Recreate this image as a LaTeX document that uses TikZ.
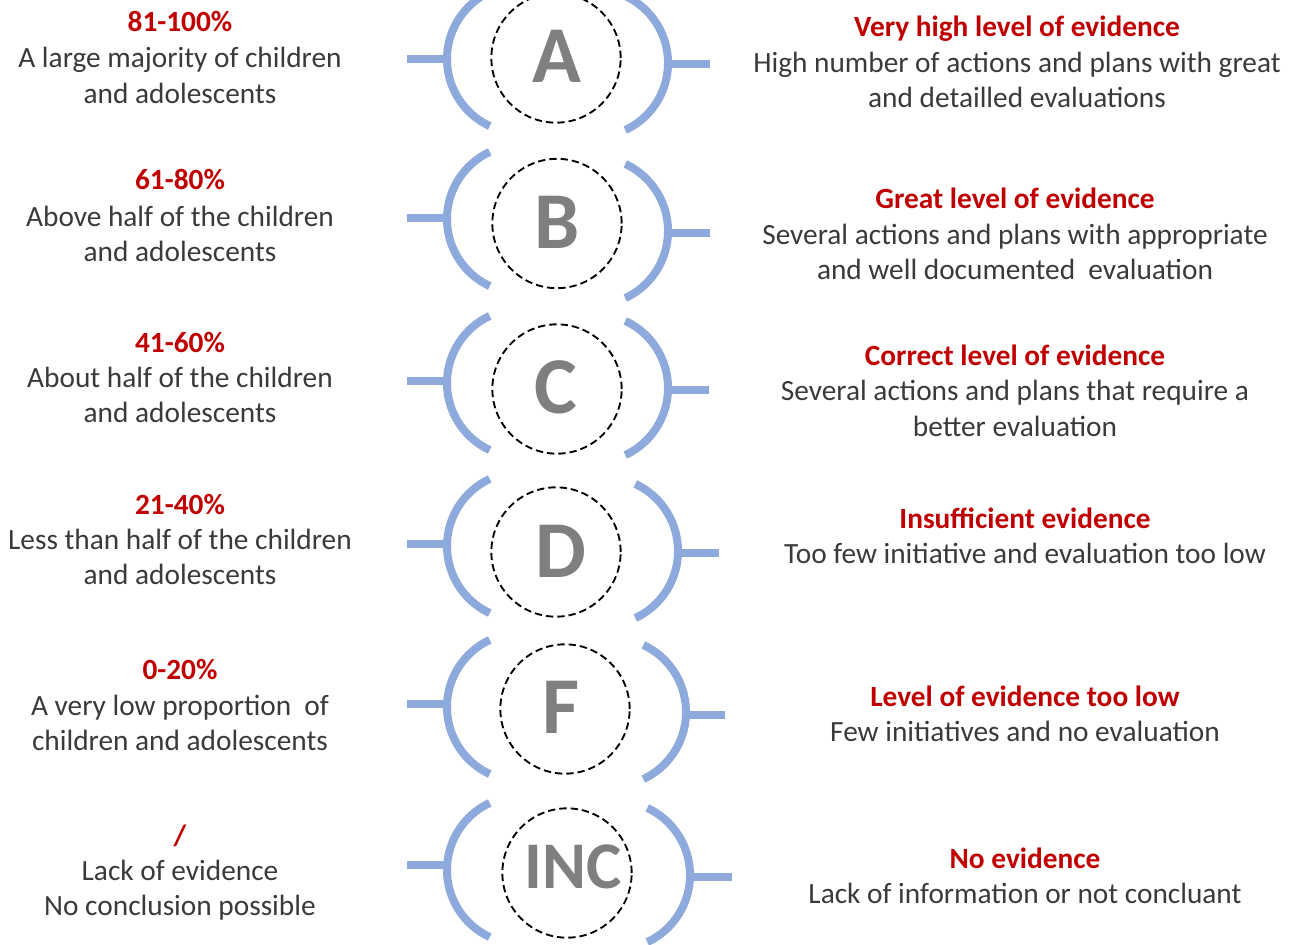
\documentclass[tikz,border=0pt]{standalone}
\usepackage{fontspec}
\setmainfont{Carlito}
\definecolor{arcblue}{RGB}{142,169,219}
\definecolor{redt}{RGB}{192,0,0}
\definecolor{txt}{RGB}{58,58,58}
\definecolor{letg}{RGB}{127,127,127}
\begin{document}
\begin{tikzpicture}[x=0.75pt,y=-0.75pt,
  arcline/.style={draw=arcblue,line width=6pt},
  dcirc/.style={circle,draw=black,line width=1.4pt,dash pattern=on 5.5pt off 3pt,minimum size=97pt,inner sep=0pt},
  biglet/.style={anchor=base,inner sep=0pt,text=letg,font=\fontsize{60.5}{60}\selectfont\bfseries},
  smalllet/.style={anchor=base,inner sep=0pt,text=letg,font=\fontsize{50}{50}\selectfont\bfseries},
  body/.style={anchor=base,inner sep=0pt,text=txt,font=\fontsize{22}{26}\selectfont},
  ttl/.style={anchor=base,inner sep=0pt,text=redt,font=\fontsize{22}{26}\selectfont\bfseries}]
\useasboundingbox (0,0) rectangle (1302,945);
\clip (0,0) rectangle (1302,945);

% ---------- Row A ----------
\coordinate (lcA) at (521,59); \coordinate (rcA) at (594,63);
\coordinate (lsA1) at (407,59); \coordinate (lsA2) at (447,59);
\coordinate (rsA1) at (668,64); \coordinate (rsA2) at (710,64);
\draw[arcline] ([shift={(115:74)}]lcA) arc[start angle=115,end angle=245,radius=74];
\draw[arcline] ([shift={(-65:74)}]rcA) arc[start angle=-65,end angle=65,radius=74];
\draw[arcline] (lsA1) -- (lsA2);
\draw[arcline] (rsA1) -- (rsA2);
\node[dcirc] (cA) at (556,58) {};
\node[biglet] (tA) at (557,83) {A};
\node[ttl]  (la1) at (180,32) {81-100\%};
\node[body] (la2) at (180,68) {A large majority of children};
\node[body] (la3) at (180,104) {and adolescents};
\node[ttl]  (ra1) at (1017,37) {Very high level of evidence};
\node[body] (ra2) at (1017,73) {High number of actions and plans with great};
\node[body] (ra3) at (1017,108) {and detailled evaluations};

% ---------- Row B ----------
\coordinate (lcB) at (521,219); \coordinate (rcB) at (594,231);
\coordinate (lsB1) at (407,218); \coordinate (lsB2) at (447,218);
\coordinate (rsB1) at (668,233); \coordinate (rsB2) at (710,233);
\draw[arcline] ([shift={(115:74)}]lcB) arc[start angle=115,end angle=245,radius=74];
\draw[arcline] ([shift={(-65:74)}]rcB) arc[start angle=-65,end angle=65,radius=74];
\draw[arcline] (lsB1) -- (lsB2);
\draw[arcline] (rsB1) -- (rsB2);
\node[dcirc] (cB) at (557,223.5) {};
\node[biglet] (tB) at (557.5,248) {B};
\node[ttl]  (lb1) at (180,190) {61-80\%};
\node[body] (lb2) at (180,226) {Above half of the children};
\node[body] (lb3) at (180,261) {and adolescents};
\node[ttl]  (rb1) at (1015,208) {Great level of evidence};
\node[body] (rb2) at (1015,244) {Several actions and plans with appropriate};
\node[body] (rb3) at (1015,279) {and well documented\ \ evaluation};

% ---------- Row C ----------
\coordinate (lcC) at (521,383); \coordinate (rcC) at (594,388);
\coordinate (lsC1) at (407,381); \coordinate (lsC2) at (447,381);
\coordinate (rsC1) at (668,390); \coordinate (rsC2) at (709,390);
\draw[arcline] ([shift={(115:74)}]lcC) arc[start angle=115,end angle=245,radius=74];
\draw[arcline] ([shift={(-65:74)}]rcC) arc[start angle=-65,end angle=65,radius=74];
\draw[arcline] (lsC1) -- (lsC2);
\draw[arcline] (rsC1) -- (rsC2);
\node[dcirc] (cC) at (557,389) {};
\node[biglet] (tC) at (556,413) {C};
\node[ttl]  (lc1) at (180,352) {41-60\%};
\node[body] (lc2) at (180,387) {About half of the children};
\node[body] (lc3) at (180,422) {and adolescents};
\node[ttl]  (rc1) at (1015,365) {Correct level of evidence};
\node[body] (rc2) at (1015,400) {Several actions and plans that require a};
\node[body] (rc3) at (1015,436) {better evaluation};

% ---------- Row D ----------
\coordinate (lcD) at (521,546); \coordinate (rcD) at (604,551);
\coordinate (lsD1) at (407,544); \coordinate (lsD2) at (447,544);
\coordinate (rsD1) at (678,553); \coordinate (rsD2) at (719,553);
\draw[arcline] ([shift={(115:74)}]lcD) arc[start angle=115,end angle=245,radius=74];
\draw[arcline] ([shift={(-65:74)}]rcD) arc[start angle=-65,end angle=65,radius=74];
\draw[arcline] (lsD1) -- (lsD2);
\draw[arcline] (rsD1) -- (rsD2);
\node[dcirc] (cD) at (556,552) {};
\node[biglet] (tD) at (561,577) {D};
\node[ttl]  (ld1) at (180,514) {21-40\%};
\node[body] (ld2) at (180,549) {Less than half of the children};
\node[body] (ld3) at (180,584) {and adolescents};
\node[ttl]  (rd1) at (1025,528) {Insufficient evidence};
\node[body] (rd2) at (1025,563) {Too few initiative and evaluation too low};

% ---------- Row F ----------
\coordinate (lcF) at (521,707); \coordinate (rcF) at (612,712);
\coordinate (lsF1) at (407,704); \coordinate (lsF2) at (447,704);
\coordinate (rsF1) at (686,715); \coordinate (rsF2) at (725,715);
\draw[arcline] ([shift={(115:74)}]lcF) arc[start angle=115,end angle=245,radius=74];
\draw[arcline] ([shift={(-65:74)}]rcF) arc[start angle=-65,end angle=65,radius=74];
\draw[arcline] (lsF1) -- (lsF2);
\draw[arcline] (rsF1) -- (rsF2);
\node[dcirc] (cF) at (565,709) {};
\node[biglet] (tF) at (561,733) {F};
\node[ttl]  (lf1) at (180,679) {0-20\%};
\node[body] (lf2) at (180,715) {A very low proportion\ \ of};
\node[body] (lf3) at (180,750) {children and adolescents};
\node[ttl]  (rf1) at (1025,706) {Level of evidence too low};
\node[body] (rf2) at (1025,741) {Few initiatives and no evaluation};

% ---------- Row INC ----------
\coordinate (lcI) at (521,870); \coordinate (rcI) at (616,875);
\coordinate (lsI1) at (407,865); \coordinate (lsI2) at (447,865);
\coordinate (rsI1) at (690,877); \coordinate (rsI2) at (732,877);
\draw[arcline] ([shift={(115:74)}]lcI) arc[start angle=115,end angle=245,radius=74];
\draw[arcline] ([shift={(-65:74)}]rcI) arc[start angle=-65,end angle=65,radius=74];
\draw[arcline] (lsI1) -- (lsI2);
\draw[arcline] (rsI1) -- (rsI2);
\node[dcirc] (cI) at (567,873) {};
\node[smalllet] (tI) at (573,888) {INC};
\node[ttl]  (li1) at (180,845) {/};
\node[body] (li2) at (180,880) {Lack of evidence};
\node[body] (li3) at (180,915) {No conclusion possible};
\node[ttl]  (ri1) at (1025,868) {No evidence};
\node[body] (ri2) at (1025,903) {Lack of information or not concluant};
\end{tikzpicture}
\end{document}
